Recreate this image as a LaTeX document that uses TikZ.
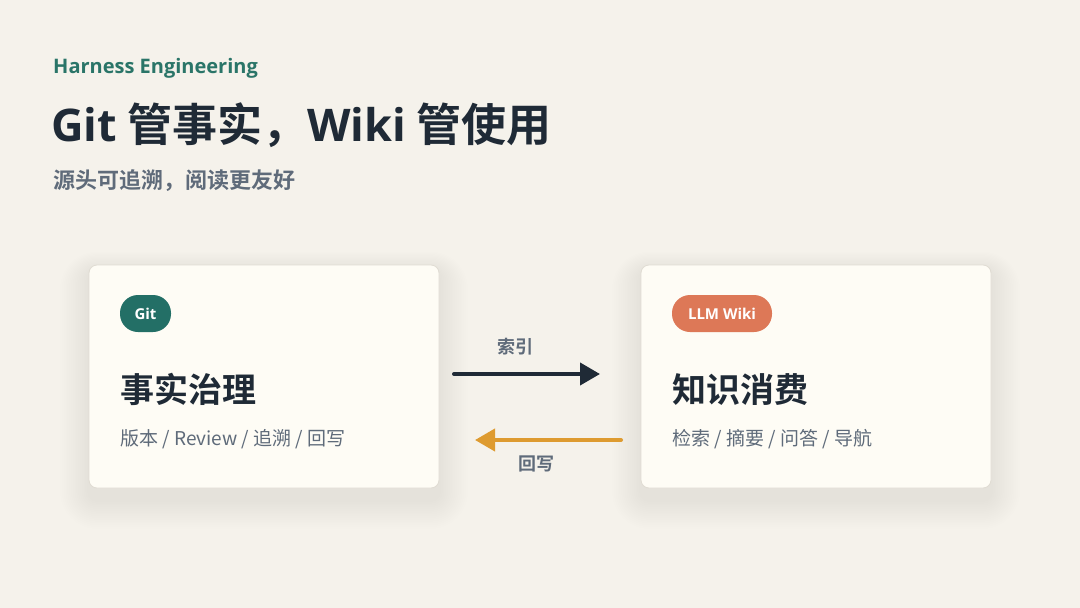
\documentclass[tikz,border=0pt]{standalone}
\usepackage{fontspec}
\setmainfont{Noto Sans CJK SC}
\newfontfamily\cjkb{Noto Sans CJK SC Bold}
\newfontfamily\latb{Open Sans Bold}
\usetikzlibrary{arrows.meta}
\definecolor{bg}{HTML}{F5F2EB}
\definecolor{cardfill}{HTML}{FEFCF5}
\definecolor{cardline}{HTML}{E0DCD3}
\definecolor{teal}{HTML}{236F66}
\definecolor{tealtxt}{HTML}{2A7568}
\definecolor{coral}{HTML}{DD7857}
\definecolor{ink}{HTML}{1F2A36}
\definecolor{muted}{HTML}{5F6B7A}
\definecolor{amber}{HTML}{DE9B30}
\newcommand{\mysoftshadow}[4]{%
  \foreach \i in {1,...,16}{%
    \fill[black, opacity=0.0038, rounded corners=8+\i*1.8]
      (#1-\i*1.8, #2+6-\i*1.2) rectangle (#3+\i*1.8, #4+12+\i*1.8);
  }}
\tikzset{
  card/.style={draw=cardline, line width=0.8pt, fill=cardfill, rounded corners=8pt,
    minimum width=350pt, minimum height=223pt, inner sep=0pt},
  pill/.style={fill=#1, rounded corners=18pt, text=white, inner sep=0pt, font=\latb\fontsize{15}{18}\selectfont},
  txt/.style={inner sep=0pt, anchor=base west},
  conn/.style={line width=4pt, line cap=round, -{Triangle[length=20pt,width=22pt,line cap=butt]}},
  lbl/.style={inner sep=0pt, text=muted, font=\cjkb\fontsize{18}{20}\selectfont}
}
\begin{document}
\begin{tikzpicture}[x=1pt,y=-1pt]
\fill[bg] (0,0) rectangle (1080,608);
\useasboundingbox (0,0) rectangle (1080,608);
\node[txt, text=tealtxt, font=\latb\fontsize{20}{24}\selectfont] (kick) at (53,73) {Harness Engineering};
\node[txt, text=ink, font=\cjkb\fontsize{45}{50}\selectfont] (title) at (51,141) {{\latb Git} 管事实，{\latb Wiki} 管使用};
\node[txt, text=muted, font=\cjkb\fontsize{22}{26}\selectfont] (sub) at (53,188) {源头可追溯，阅读更友好};
% cards
\mysoftshadow{89}{265}{439}{488}
\mysoftshadow{641}{265}{991}{488}
\node[card] (gitcard) at (264,376.5) {};
\node[card] (wikicard) at (816,376.5) {};
\node[pill=teal, minimum width=51pt, minimum height=37pt] (gitpill) at (145.5,313.5) {Git};
\node[pill=coral, minimum width=100pt, minimum height=37pt] (wikipill) at (722,313.5) {LLM Wiki};
\node[txt, text=ink, font=\cjkb\fontsize{34}{40}\selectfont] (lt) at (120,402) {事实治理};
\node[txt, text=muted, font=\fontsize{19}{22}\selectfont] (ls) at (120,445) {版本 / Review / 追溯 / 回写};
\node[txt, text=ink, font=\cjkb\fontsize{34}{40}\selectfont] (rt) at (672,402) {知识消费};
\node[txt, text=muted, font=\fontsize{19}{22}\selectfont] (rs) at (672,445) {检索 / 摘要 / 问答 / 导航};
% connectors
\coordinate (a1s) at (454,374);
\coordinate (a1e) at (600,374);
\coordinate (a2s) at (621,440);
\coordinate (a2e) at (475,440);
\draw[conn, draw=ink, fill=ink] (a1s) -- (a1e);
\draw[conn, draw=amber, fill=amber] (a2s) -- (a2e);
\node[lbl] (l1) at (515,347) {索引};
\node[lbl] (l2) at (536,464) {回写};
\end{tikzpicture}
\end{document}
